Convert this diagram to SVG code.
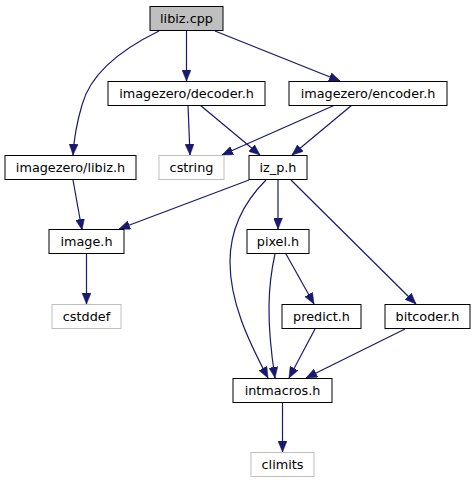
<svg xmlns="http://www.w3.org/2000/svg" width="476" height="485" viewBox="0 0 476 485">
<defs>
<style>
.n rect{fill:#fff;stroke:#000;stroke-width:1}
.n.g rect{fill:#bfbfbf}
.n.m rect{stroke:#bfbfbf}
text{font-family:"DejaVu Sans",sans-serif;font-size:12.8px;fill:#000;text-anchor:middle}
.e path{fill:none;stroke:#191970;stroke-width:1.2;marker-end:url(#ah)}
</style>
<marker id="ah" viewBox="0 0 11 9" refX="11" refY="4.5" markerWidth="11" markerHeight="9" markerUnits="userSpaceOnUse" orient="auto">
<path d="M0,0 L11,4.5 L0,9 z" fill="#191970" stroke="#191970" stroke-width="0.5"/>
</marker>
</defs>
<rect width="476" height="485" fill="#fff"/>
<g id="edges" class="e">
<path d="M186.5,30 L186.5,81"/>
<path d="M215,31 L340,81"/>
<path d="M159,31 C120,50 90,75 82,105 C77,122 74,138 73,155"/>
<path d="M188,105 L190,155"/>
<path d="M200,105 L260,155"/>
<path d="M335,105 L222,155"/>
<path d="M352,105 L292,155"/>
<path d="M73,180 L82,230"/>
<path d="M249,180 L119,229"/>
<path d="M278,180 L278,229"/>
<path d="M266,180 C244,202 230,228 230,262 C230,302 248,340 268,378"/>
<path d="M275,254 C268,285 266,320 275,378"/>
<path d="M286,254 L314,304"/>
<path d="M291,180 L416,304"/>
<path d="M315,329 L289,378"/>
<path d="M405,329 L306,378"/>
<path d="M282.5,403 L282.5,452"/>
<path d="M86.5,254 L86.5,304"/>
</g>
<g id="libiz_cpp" class="n g"><rect x="150" y="6.5" width="73" height="24"/><text x="186.5" y="23">libiz.cpp</text></g>
<g id="decoder_h" class="n"><rect x="108" y="81.5" width="157" height="24"/><text x="186.5" y="98">imagezero/decoder.h</text></g>
<g id="encoder_h" class="n"><rect x="289" y="81.5" width="158" height="24"/><text x="368" y="98">imagezero/encoder.h</text></g>
<g id="libiz_h" class="n"><rect x="5" y="155.5" width="131" height="24"/><text x="70.5" y="172">imagezero/libiz.h</text></g>
<g id="cstring" class="n m"><rect x="159" y="155.5" width="65" height="24"/><text x="191.5" y="172">cstring</text></g>
<g id="iz_p_h" class="n"><rect x="249" y="155.5" width="58" height="24"/><text x="278" y="172">iz_p.h</text></g>
<g id="image_h" class="n"><rect x="49" y="229.5" width="75" height="24"/><text x="86.5" y="246">image.h</text></g>
<g id="pixel_h" class="n"><rect x="247" y="229.5" width="62" height="24"/><text x="278" y="246">pixel.h</text></g>
<g id="cstddef" class="n m"><rect x="52" y="304.5" width="69" height="24"/><text x="86.5" y="321">cstddef</text></g>
<g id="predict_h" class="n"><rect x="282" y="304.5" width="79" height="24"/><text x="321.5" y="321">predict.h</text></g>
<g id="bitcoder_h" class="n"><rect x="385" y="304.5" width="85" height="24"/><text x="427.5" y="321">bitcoder.h</text></g>
<g id="intmacros_h" class="n"><rect x="233" y="378.5" width="99" height="24"/><text x="282.5" y="395">intmacros.h</text></g>
<g id="climits" class="n m"><rect x="251" y="452.5" width="63" height="24"/><text x="282.5" y="469">climits</text></g>
</svg>
